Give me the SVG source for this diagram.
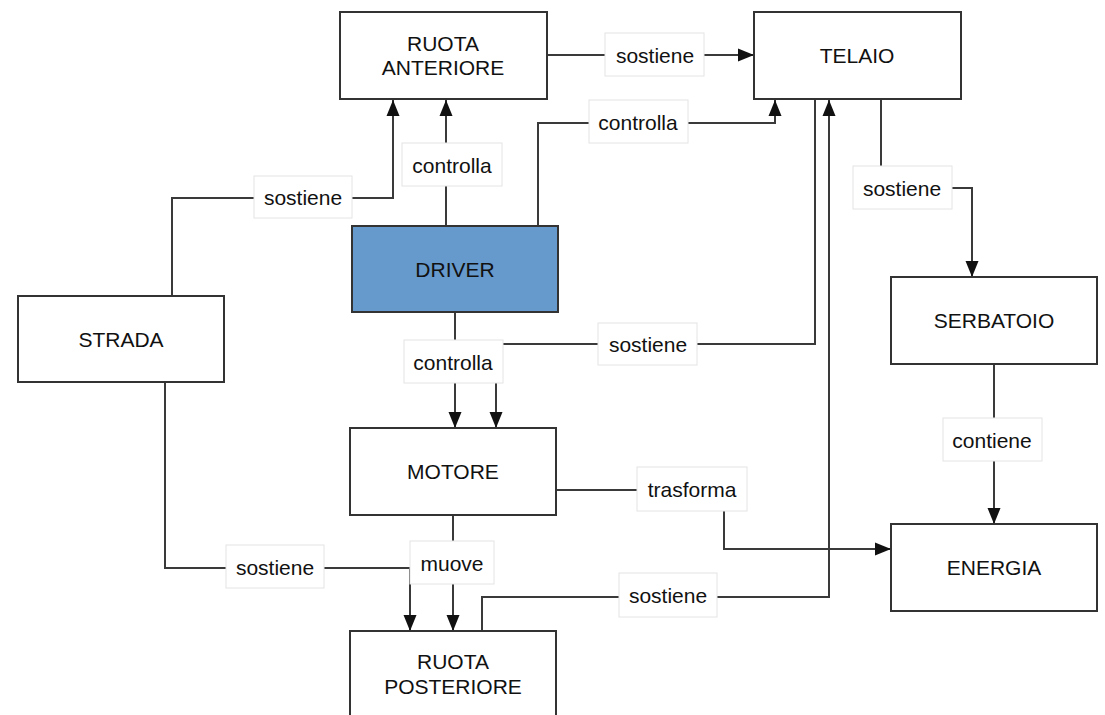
<svg xmlns="http://www.w3.org/2000/svg" width="1105" height="715" viewBox="0 0 1105 715">
  <style>
    .node rect { fill: #ffffff; stroke: #333333; stroke-width: 2; }
    .node.hl rect { fill: #6699cc; }
    .node text, .lbl text { font-family: "Liberation Sans", Arial, sans-serif; font-size: 21px; fill: #111111; text-anchor: middle; }
    .edge { fill: none; stroke: #3a3a3a; stroke-width: 2; }
    .arr { marker-end: url(#tip); }
    .lbl rect { fill: #ffffff; stroke: #e4e4e4; stroke-width: 1; }
  </style>
  <defs>
    <marker id="tip" markerUnits="userSpaceOnUse" markerWidth="18" markerHeight="14" refX="16" refY="7" orient="auto">
      <path d="M0,0.5 L16,7 L0,13.5 Z" fill="#111111"/>
    </marker>
  </defs>
  <rect width="1105" height="715" fill="#ffffff"/>

  <!-- connectors -->
  <g id="connectors">
    <path class="edge arr" d="M547,55 H754"/>
    <path class="edge arr" d="M446,226 V100"/>
    <path class="edge arr" d="M172,296 V198 H393 V100"/>
    <path class="edge arr" d="M538,226 V123 H775 V100"/>
    <path class="edge arr" d="M881,99 V188 H972 V277"/>
    <path class="edge arr" d="M455,312 V428"/>
    <path class="edge arr" d="M815,99 V344 H496 V428"/>
    <path class="edge arr" d="M453,515 V631"/>
    <path class="edge arr" d="M165,383 V568 H410 V631"/>
    <path class="edge arr" d="M482,631 V597 H829 V100"/>
    <path class="edge arr" d="M556,490 H724 V549 H891"/>
    <path class="edge arr" d="M994,364 V524"/>

    <!-- connector labels -->
    <g class="lbl"><rect x="605" y="33" width="99" height="43"/><text x="655" y="63">sostiene</text></g>
    <g class="lbl"><rect x="402" y="143" width="100" height="43"/><text x="452" y="173">controlla</text></g>
    <g class="lbl"><rect x="254" y="176" width="98" height="42"/><text x="303" y="205">sostiene</text></g>
    <g class="lbl"><rect x="589" y="100" width="99" height="43"/><text x="638" y="130">controlla</text></g>
    <g class="lbl"><rect x="853" y="166" width="99" height="43"/><text x="902" y="196">sostiene</text></g>
    <g class="lbl"><rect x="404" y="340" width="99" height="43"/><text x="453" y="370">controlla</text></g>
    <g class="lbl"><rect x="598" y="323" width="99" height="42"/><text x="648" y="352">sostiene</text></g>
    <g class="lbl"><rect x="410" y="541" width="84" height="43"/><text x="452" y="571">muove</text></g>
    <g class="lbl"><rect x="226" y="545" width="98" height="43"/><text x="275" y="575">sostiene</text></g>
    <g class="lbl"><rect x="619" y="573" width="98" height="44"/><text x="668" y="603">sostiene</text></g>
    <g class="lbl"><rect x="637" y="467" width="110" height="44"/><text x="692" y="497">trasforma</text></g>
    <g class="lbl"><rect x="943" y="418" width="99" height="43"/><text x="992" y="448">contiene</text></g>
  </g>

  <!-- nodes -->
  <g id="ruota-anteriore" class="node">
    <rect x="340" y="12" width="207" height="87"/>
    <text x="443" y="51">RUOTA</text>
    <text x="443" y="75">ANTERIORE</text>
  </g>
  <g id="telaio" class="node">
    <rect x="754" y="12" width="207" height="87"/>
    <text x="857" y="63">TELAIO</text>
  </g>
  <g id="driver" class="node hl">
    <rect x="352" y="226" width="206" height="86"/>
    <text x="455" y="277">DRIVER</text>
  </g>
  <g id="strada" class="node">
    <rect x="18" y="296" width="206" height="86"/>
    <text x="121" y="347">STRADA</text>
  </g>
  <g id="serbatoio" class="node">
    <rect x="891" y="277" width="206" height="87"/>
    <text x="994" y="328">SERBATOIO</text>
  </g>
  <g id="motore" class="node">
    <rect x="350" y="428" width="206" height="87"/>
    <text x="453" y="479">MOTORE</text>
  </g>
  <g id="energia" class="node">
    <rect x="891" y="524" width="206" height="87"/>
    <text x="994" y="575">ENERGIA</text>
  </g>
  <g id="ruota-posteriore" class="node">
    <rect x="350" y="631" width="206" height="87"/>
    <text x="453" y="669">RUOTA</text>
    <text x="453" y="694">POSTERIORE</text>
  </g>
</svg>
